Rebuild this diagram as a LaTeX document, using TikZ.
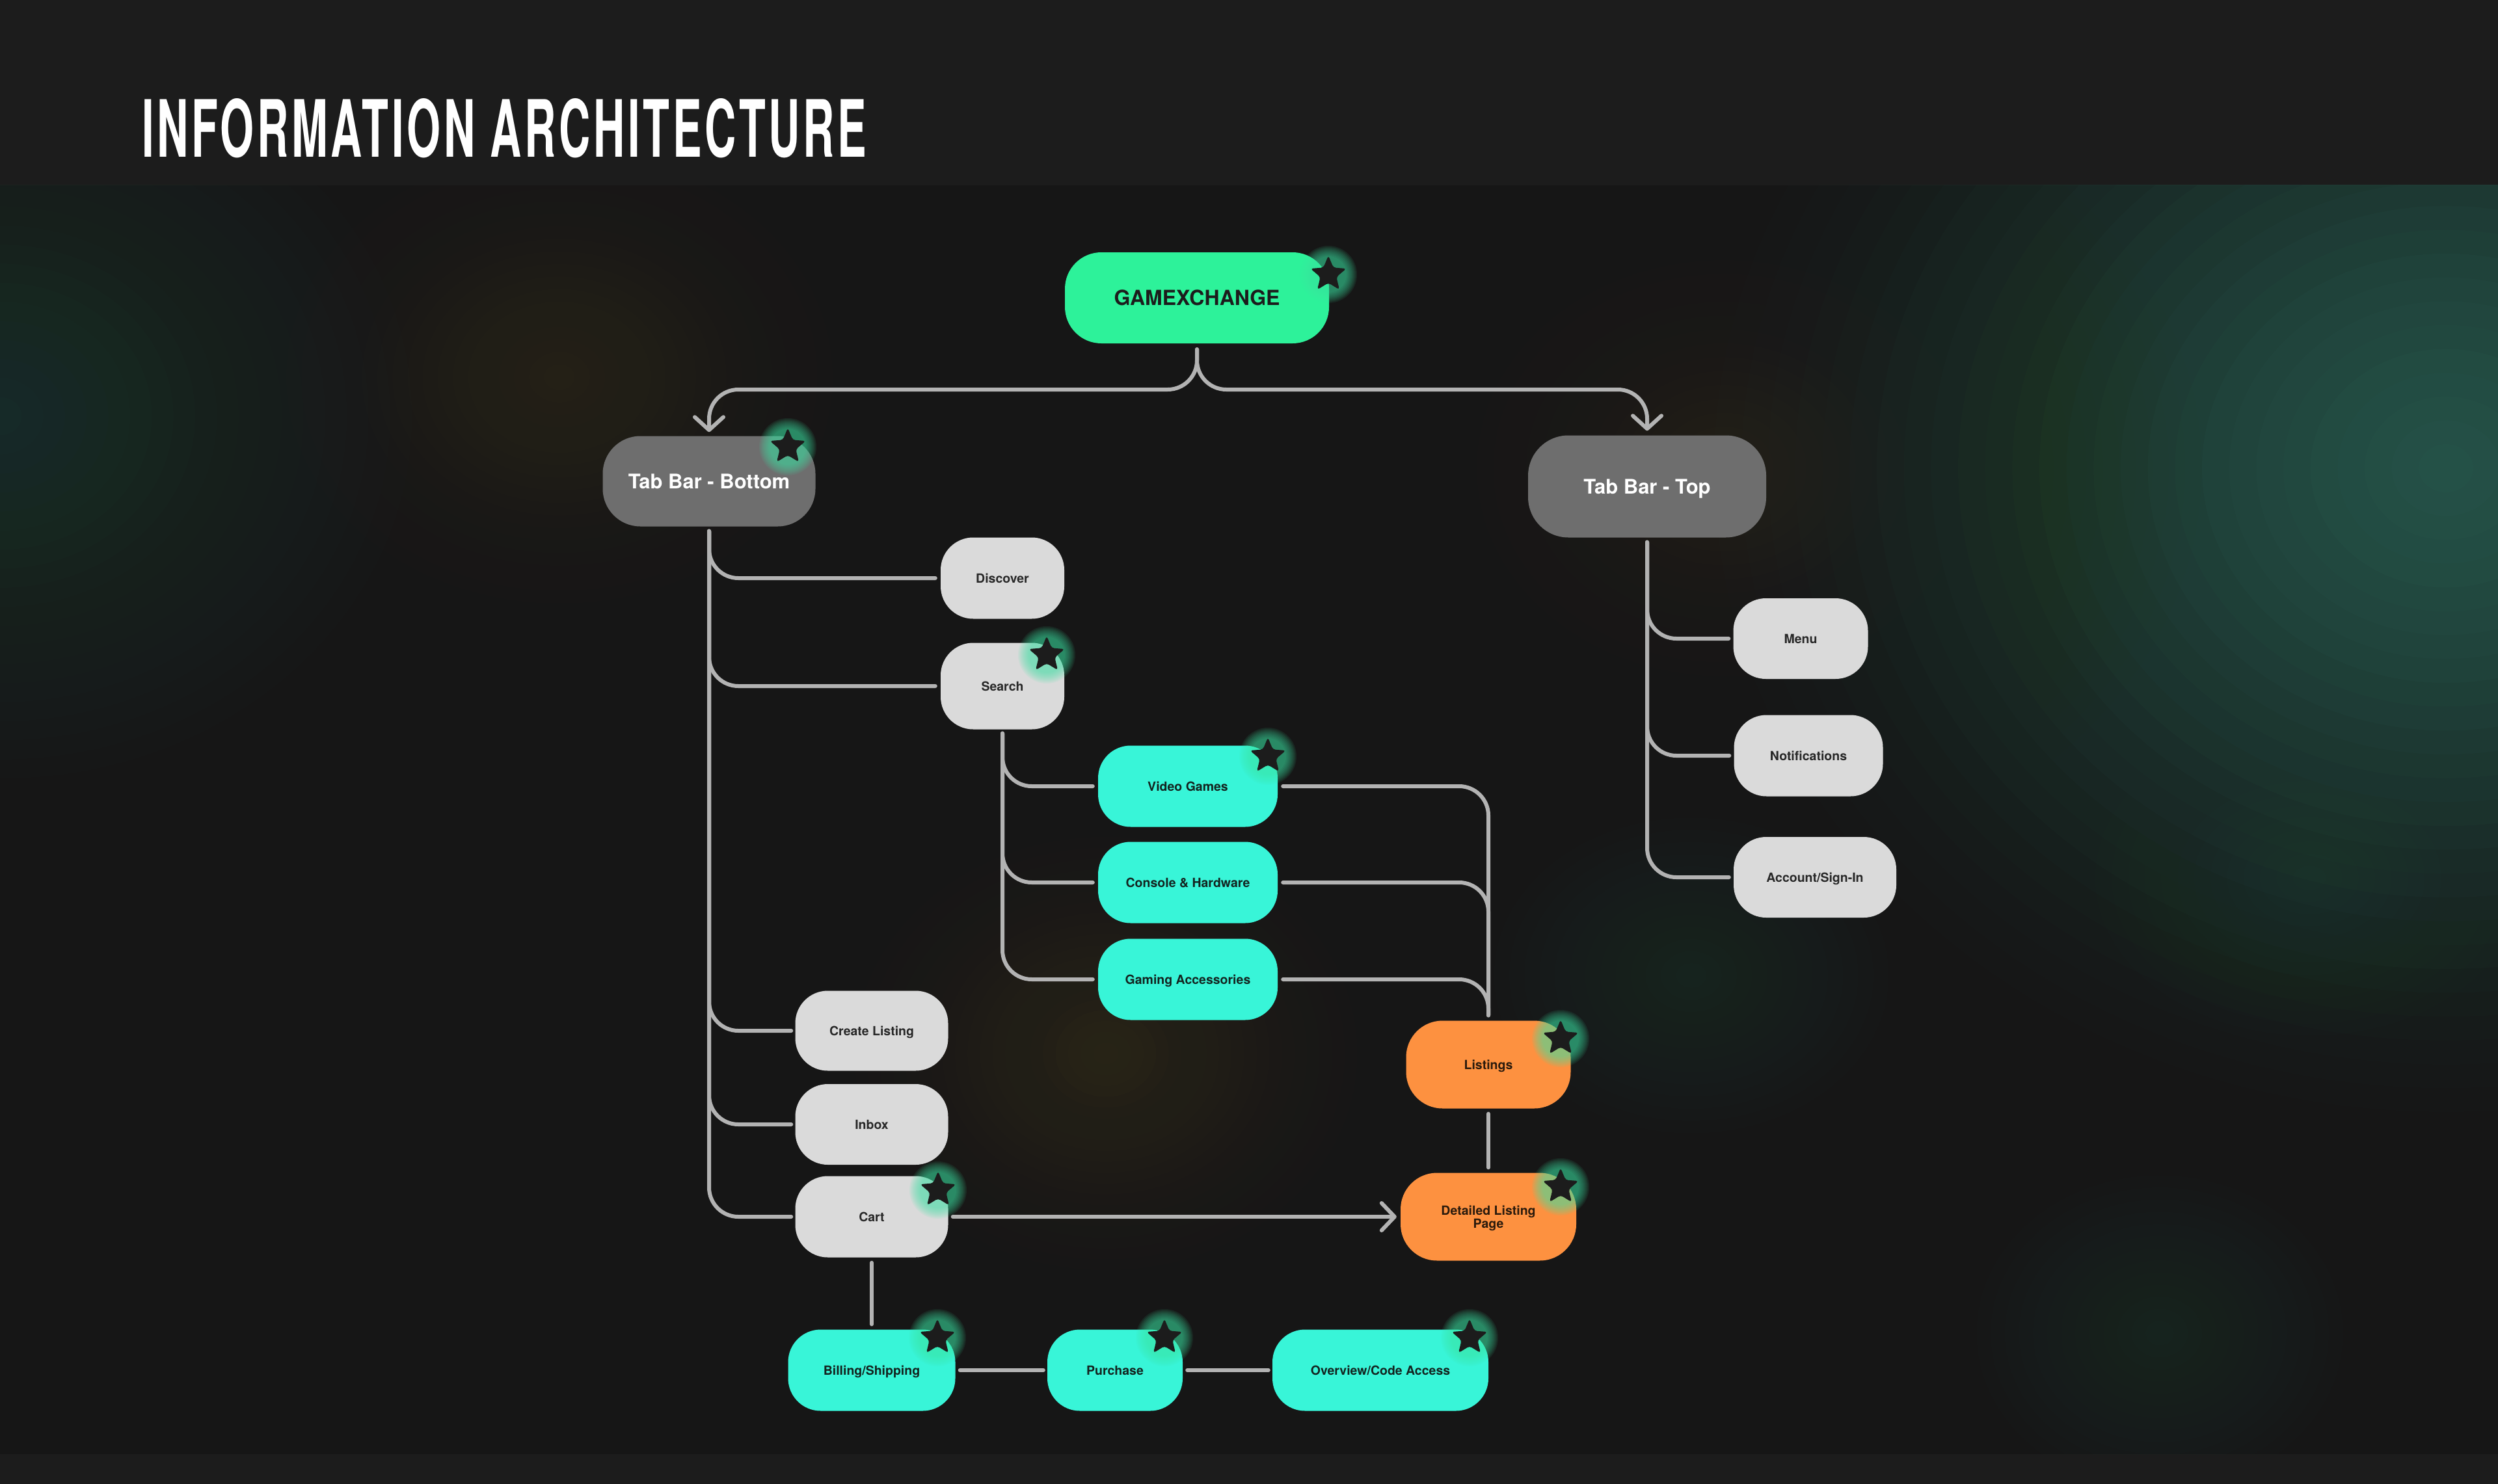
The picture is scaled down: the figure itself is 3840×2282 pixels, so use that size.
\documentclass[tikz,border=0pt]{standalone}
\usepackage{fontspec}
\setmainfont{TeX Gyre Heros}
\usepackage{graphicx}
\usetikzlibrary{arrows.meta,calc}

\definecolor{bgmain}{HTML}{161616}
\definecolor{bghead}{HTML}{1C1C1C}
\definecolor{linec}{HTML}{B3B3B3}
\definecolor{gxgreen}{HTML}{2DF29A}
\definecolor{tabgrey}{HTML}{6E6E6E}
\definecolor{lightbox}{HTML}{DADADA}
\definecolor{cyanbox}{HTML}{38F5D8}
\definecolor{orangebox}{HTML}{FD9140}
\definecolor{darktext}{HTML}{272727}
\definecolor{cyantext}{HTML}{13231F}
\definecolor{orangetext}{HTML}{2A1A0C}
\definecolor{starc}{HTML}{1C1C1C}
\definecolor{glowc}{HTML}{3DE6A6}
\definecolor{tealglow}{HTML}{30665A}
\definecolor{brownglow}{HTML}{4A4222}

% soft glow made of stacked translucent ellipses (weaker outer layers): colour, x, y, rx, ry, step opacity
\newcommand{\softglow}[6]{%
  \foreach \k in {1,...,30}{%
    \fill[#1, fill opacity={#6*(31-\k)/15.5}] (#2,#3) ellipse [x radius={#4/30*\k}, y radius={#5/30*\k}];
  }%
}

\tikzset{
  conn/.style={draw=linec, line width=6pt, line cap=round, rounded corners=45pt},
  arrowtip/.style={-{Straight Barb[length=20pt,width=44pt,round]}},
  basebox/.style={rounded corners=50pt, inner sep=0pt, align=center,
    font=\fontsize{19.5}{20}\selectfont\bfseries, text height=14pt, text depth=0pt},
  lightnode/.style={basebox, fill=lightbox, text=darktext},
  cyannode/.style={basebox, fill=cyanbox, text=cyantext},
  orangenode/.style={basebox, fill=orangebox, text=orangetext, rounded corners=56pt},
  tabnode/.style={basebox, fill=tabgrey, text=white, rounded corners=58pt,
    font=\fontsize{31}{32}\selectfont\bfseries, text height=22pt},
  gxnode/.style={basebox, fill=gxgreen, text=starc, rounded corners=56pt,
    font=\fontsize{32}{34}\selectfont\bfseries, text height=23pt},
  gstar/.pic={
    \foreach \r in {28,30,...,44}{\fill[glowc, fill opacity=0.09] (0,0) circle (\r);}
    \fill[starc, rounded corners=4pt] (270:29) -- (306:13) -- (342:29) -- (18:13) -- (54:29)
      -- (90:13) -- (126:29) -- (162:13) -- (198:29) -- (234:13) -- cycle;
  }
}

\begin{document}
\begin{tikzpicture}[x=1pt,y=-1pt]
\useasboundingbox (0,0) rectangle (3840,2282);
% backgrounds
\fill[bghead] (0,0) rectangle (3840,285);
\fill[bgmain] (0,285) rectangle (3840,2236);
\fill[bghead] (0,2236) rectangle (3840,2282);
\begin{scope}
  \clip (0,285) rectangle (3840,2236);
  \softglow{tealglow}{0}{640}{1000}{880}{0.018}
  \softglow{tealglow}{3760}{720}{1250}{1100}{0.061}
  \softglow{tealglow}{3550}{1350}{760}{560}{0.012}
  \softglow{tealglow}{2600}{1500}{700}{560}{0.012}
  \softglow{tealglow}{3320}{2050}{650}{560}{0.012}
  \softglow{tealglow}{450}{1950}{700}{520}{0.0055}
  \softglow{brownglow}{860}{580}{700}{580}{0.022}
  \softglow{brownglow}{2650}{720}{760}{640}{0.018}
  \softglow{brownglow}{1700}{1620}{580}{500}{0.026}
\end{scope}

% title
\node[anchor=south west, inner sep=0pt, text=white] (title) at (218,243)
  {\resizebox{1114pt}{90pt}{\addfontfeature{LetterSpace=7}\bfseries INFORMATION ARCHITECTURE}};

% nodes
\node[gxnode, minimum width=406pt, minimum height=140pt] (gx) at (1840,458) {GAMEXCHANGE};
\node[tabnode, minimum width=327pt, minimum height=139pt] (tbb) at (1090,740) {Tab Bar - Bottom};
\node[tabnode, minimum width=366pt, minimum height=157pt, rounded corners=62pt] (tbt) at (2532,748) {Tab Bar - Top};

\node[lightnode, minimum width=190pt, minimum height=125pt] (disc) at (1541,889) {Discover};
\node[lightnode, minimum width=190pt, minimum height=133pt] (search) at (1541,1055) {Search};

\node[cyannode, minimum width=276pt, minimum height=125pt] (vg) at (1826,1209) {Video Games};
\node[cyannode, minimum width=276pt, minimum height=125pt] (ch) at (1826,1357) {Console \& Hardware};
\node[cyannode, minimum width=276pt, minimum height=125pt] (ga) at (1826,1506) {Gaming Accessories};

\node[lightnode, minimum width=235pt, minimum height=123pt] (create) at (1340,1585) {Create Listing};
\node[lightnode, minimum width=235pt, minimum height=124pt] (inbox) at (1340,1729) {Inbox};
\node[lightnode, minimum width=235pt, minimum height=125pt] (cart) at (1340,1871) {Cart};

\node[orangenode, minimum width=253pt, minimum height=135pt] (list) at (2288,1637) {Listings};
\node[orangenode, minimum width=270pt, minimum height=135pt, text height=34pt] (dlp) at (2288,1871) {Detailed Listing\\Page};

\node[lightnode, minimum width=207pt, minimum height=124pt] (menu) at (2768,982) {Menu};
\node[lightnode, minimum width=229pt, minimum height=125pt] (notif) at (2780,1162) {Notifications};
\node[lightnode, minimum width=250pt, minimum height=124pt] (acct) at (2790,1349) {Account/Sign-In};

\node[cyannode, minimum width=257pt, minimum height=125pt] (bill) at (1340,2107) {Billing/Shipping};
\node[cyannode, minimum width=208pt, minimum height=125pt] (purch) at (1714,2107) {Purchase};
\node[cyannode, minimum width=332pt, minimum height=125pt] (over) at (2122,2107) {Overview/Code Access};

\coordinate (fork) at (1840,599);

% connectors
\draw[conn, arrowtip, shorten <=9pt, shorten >=6pt] (gx.south) -- (fork) -| (tbb.north);
\draw[conn, arrowtip, shorten <=9pt, shorten >=7pt] (gx.south) -- (fork) -| (tbt.north);

\draw[conn, shorten <=7pt, shorten >=8pt] (tbb.south) |- (disc.west);
\draw[conn, shorten <=7pt, shorten >=8pt] (tbb.south) |- (search.west);
\draw[conn, shorten <=7pt, shorten >=6pt] (tbb.south) |- (create.west);
\draw[conn, shorten <=7pt, shorten >=6pt] (tbb.south) |- (inbox.west);
\draw[conn, shorten <=7pt, shorten >=6pt] (tbb.south) |- (cart.west);

\draw[conn, shorten <=6pt, shorten >=8pt] (search.south) |- (vg.west);
\draw[conn, shorten <=6pt, shorten >=8pt] (search.south) |- (ch.west);
\draw[conn, shorten <=6pt, shorten >=8pt] (search.south) |- (ga.west);

\draw[conn, shorten <=8pt, shorten >=8pt] (vg.east) -| (list.north);
\draw[conn, shorten <=8pt, shorten >=8pt] (ch.east) -| (list.north);
\draw[conn, shorten <=8pt, shorten >=8pt] (ga.east) -| (list.north);

\draw[conn, shorten <=8pt, shorten >=8pt] (list.south) -- (dlp.north);
\draw[conn, -{Straight Barb[length=20pt,width=42pt,round]}, shorten <=7pt, shorten >=6pt] (cart.east) -- (dlp.west);
\draw[conn, shorten <=8pt, shorten >=8pt] (cart.south) -- (bill.north);
\draw[conn, shorten <=7pt, shorten >=6pt] (bill.east) -- (purch.west);
\draw[conn, shorten <=7pt, shorten >=6pt] (purch.east) -- (over.west);

\draw[conn, shorten <=7pt, shorten >=7pt] (tbt.south) |- (menu.west);
\draw[conn, shorten <=7pt, shorten >=7pt] (tbt.south) |- (notif.west);
\draw[conn, shorten <=7pt, shorten >=7pt] (tbt.south) |- (acct.west);

% stars
\pic at (2042,422) {gstar};
\pic at (1211,687) {gstar};
\pic at (1609,1007) {gstar};
\pic at (1949,1163) {gstar};
\pic at (2399,1597) {gstar};
\pic at (2399,1825) {gstar};
\pic at (1442,1830) {gstar};
\pic at (1441,2057) {gstar};
\pic at (1790,2057) {gstar};
\pic at (2259,2057) {gstar};
\end{tikzpicture}
\end{document}
